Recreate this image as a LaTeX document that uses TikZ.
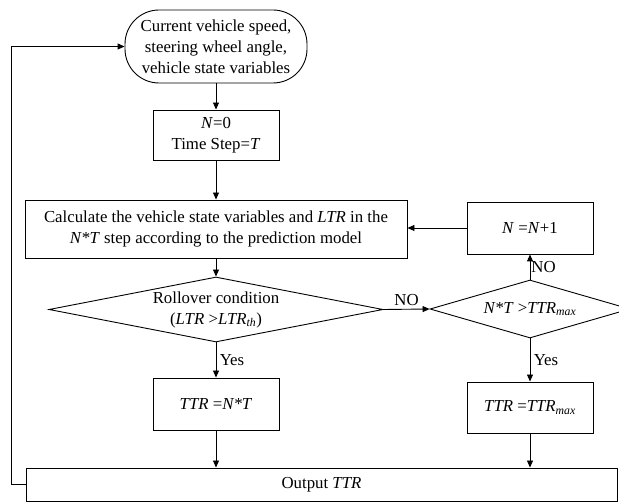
\documentclass[tikz,border=0pt]{standalone}
\usepackage{fontspec}
\setmainfont{Liberation Serif}
\usetikzlibrary{arrows.meta,shapes.geometric}
\begin{document}
\begin{tikzpicture}[x=1pt,y=-1pt,
  font=\fontsize{16.8}{21}\selectfont,
  box/.style={draw,line width=0.9pt,align=center,inner sep=0pt},
  decision/.style={draw,diamond,line width=0.9pt,align=center,inner sep=0pt},
  flow/.style={line width=0.9pt,-{Triangle[length=7pt,width=6pt]}}]
\useasboundingbox (0,0) rectangle (619,502);
\node[box,rounded corners=34pt,minimum width=182pt,minimum height=73pt] (start) at (216,46.5)
  {Current vehicle speed,\\steering wheel angle,\\vehicle state variables};
\node[box,minimum width=126pt,minimum height=50pt] (init) at (216,135)
  {\textit{N}=0\\Time Step=\textit{T}};
\node[box,minimum width=382pt,minimum height=58pt] (calc) at (216,229)
  {Calculate the vehicle state variables and \textit{LTR} in the\\\textit{N*T} step according to the prediction model};
\node[box,minimum width=126pt,minimum height=52pt] (inc) at (530,228)
  {\textit{N} =\textit{N}+1};
\node[decision,aspect=5,minimum width=334pt,minimum height=65pt] (roll) at (216,309.5)
  {Rollover condition\\(\textit{LTR} >\textit{LTR}\textsubscript{\textit{th}})};
\node[decision,aspect=3.4,minimum width=200pt,minimum height=58pt] (check) at (530,309)
  {\textit{N*T} >\textit{TTR}\textsubscript{\textit{max}}};
\node[box,minimum width=126pt,minimum height=52pt] (ttr) at (216,404)
  {\textit{TTR} =\textit{N*T}};
\node[box,minimum width=126pt,minimum height=51pt] (ttrmax) at (530,407.5)
  {\textit{TTR} =\textit{TTR}\textsubscript{\textit{max}}};
\node[box,minimum width=591pt,minimum height=33pt] (out) at (321.5,484.5)
  {Output \textit{TTR}};
\draw[flow] (start) -- (init);
\draw[flow] (init) -- (calc);
\draw[flow] (calc) -- (roll);
\draw[flow] (roll.east) -- node[above] {NO} (check.west);
\draw[flow] (check.north) -- node[right,inner sep=1pt] {NO} (inc.south);
\draw[flow] (inc.west) -- (inc.west -| calc.east);
\draw[flow] (roll.south) -- node[right] {Yes} (ttr.north);
\draw[flow] (check.south) -- node[right] {Yes} (ttrmax.north);
\draw[flow] (ttr.south) -- (ttr.south |- out.north);
\draw[flow] (ttrmax.south) -- (ttrmax.south |- out.north);
\draw[flow] (out.west) -- ++(-14,0) |- (start.west);
\end{tikzpicture}
\end{document}
